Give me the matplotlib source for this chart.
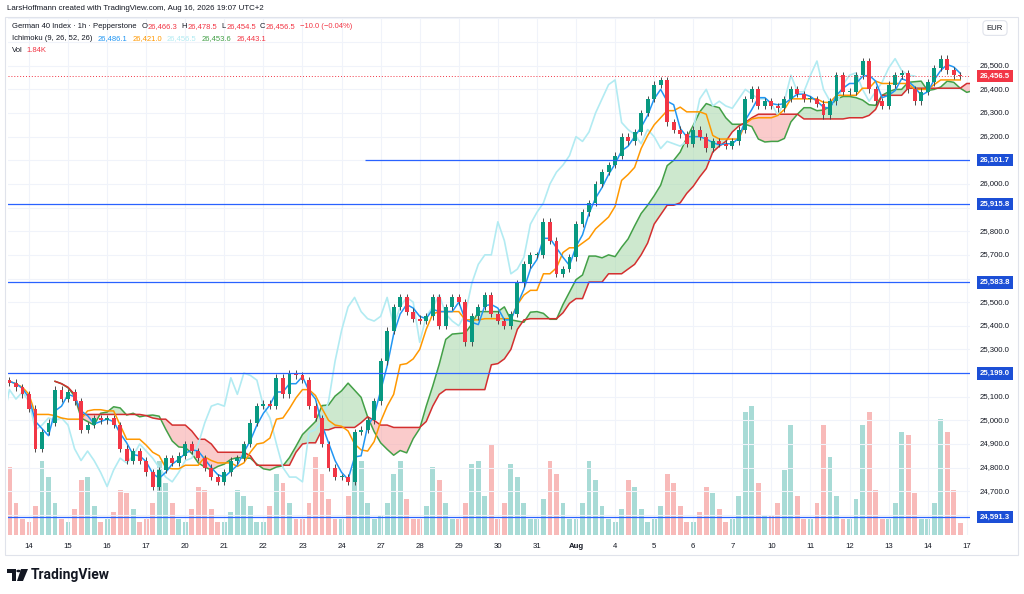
import numpy as np
import pandas as pd
import matplotlib
matplotlib.use("Agg")
import matplotlib.pyplot as plt
import matplotlib.transforms as mtransforms
from matplotlib.patches import Rectangle, Polygon, Circle

# data, 6 bars per trading day (first 3 bars = end of Jul 13)
day_labels = ["14", "15", "16", "17", "20", "21", "22", "23", "24", "27", "28", "29",
              "30", "31", "Aug", "4", "5", "6", "7", "10", "11", "12", "13", "14", "17"]
bars_per_day = 6
first_open = 25170

closes = [
    25160, 25140, 25110,                              # Jul 13
    25050, 24880, 24950, 24990, 25130, 25090,         # Jul 14
    25120, 25080, 24960, 24980, 25010, 25000,         # Jul 15
    25010, 24980, 24880, 24830, 24870, 24830,         # Jul 16
    24780, 24720, 24790, 24840, 24820, 24850,         # Jul 17
    24900, 24870, 24840, 24800, 24760, 24740,         # Jul 20
    24780, 24830, 24840, 24900, 24990, 25060,         # Jul 21
    25070, 25060, 25180, 25110, 25200, 25190,         # Jul 22
    25170, 25060, 25010, 24900, 24800, 24760,         # Jul 23
    24760, 24740, 24950, 24960, 25000, 25080,         # Jul 24
    25250, 25380, 25480, 25520, 25460, 25430,         # Jul 27
    25420, 25440, 25520, 25400, 25480, 25520,         # Jul 28
    25500, 25330, 25440, 25480, 25530, 25450,         # Jul 29
    25420, 25400, 25450, 25580, 25660, 25700,         # Jul 30
    25700, 25840, 25760, 25620, 25640, 25690,         # Jul 31
    25830, 25880, 25920, 26000, 26050, 26080,         # Aug 3
    26120, 26200, 26180, 26220, 26300, 26360,         # Aug 4
    26420, 26440, 26260, 26230, 26210, 26170,         # Aug 5
    26230, 26200, 26150, 26180, 26170, 26160,         # Aug 6
    26180, 26230, 26360, 26400, 26330, 26350,         # Aug 7
    26330, 26320, 26360, 26400, 26380, 26360,         # Aug 10
    26360, 26340, 26290, 26350, 26460, 26390,         # Aug 11
    26390, 26460, 26520, 26400, 26350, 26330,         # Aug 12
    26420, 26460, 26470, 26400, 26350, 26390,         # Aug 13
    26430, 26490, 26530, 26480, 26460, 26456.5,       # Aug 14
]

volumes = [  # K
    10.5, 5.0, 2.5,
    2.0, 4.5, 11.5, 9.0, 5.0, 2.5,
    2.0, 4.0, 8.5, 9.0, 4.5, 2.0,
    2.5, 3.5, 7.0, 6.5, 4.0, 2.0,
    2.5, 5.0, 11.5, 8.0, 5.0, 2.5,
    2.0, 4.0, 7.5, 7.0, 4.0, 2.0,
    2.0, 3.5, 7.0, 6.0, 4.5, 2.0,
    2.0, 4.5, 9.5, 8.0, 5.0, 2.5,
    2.5, 5.0, 12.0, 9.5, 5.5, 2.5,
    2.5, 6.0, 10.5, 11.5, 5.0, 2.5,
    3.0, 5.0, 9.5, 11.5, 5.5, 2.5,
    2.5, 4.5, 10.5, 8.5, 5.0, 2.5,
    2.5, 5.0, 11.0, 11.5, 6.0, 14.0,
    2.5, 5.0, 11.0, 9.0, 5.0, 2.5,
    2.5, 5.5, 11.5, 9.5, 5.0, 2.5,
    2.5, 5.0, 11.5, 8.5, 4.5, 2.5,
    2.0, 4.0, 8.5, 7.5, 4.0, 2.0,
    2.5, 4.5, 9.5, 8.0, 4.5, 2.0,
    2.0, 3.5, 7.5, 6.5, 4.0, 2.0,
    2.5, 6.0, 19.0, 20.0, 8.0, 3.0,
    3.0, 5.0, 10.0, 17.0, 6.0, 2.5,
    2.5, 5.0, 17.0, 12.0, 6.0, 2.5,
    2.5, 5.5, 17.0, 19.0, 7.0, 2.5,
    2.5, 5.0, 16.0, 15.5, 6.5, 2.5,
    2.5, 5.0, 18.0, 16.0, 7.0, 1.84,
]

levels = [26101.7, 25915.8, 25583.8, 25199.0, 24591.3]
level_start = [54.6, None, None, None, None]
last_price = 26456.5

UP, DOWN = "#089981", "#f23645"
LEVEL = "#2962ff"
dark = "#131722"
plt.rcParams["font.family"] = ["Liberation Sans", "DejaVu Sans"]

c = np.array(closes, dtype=float)
o = np.r_[first_open, c[:-1]]
wick = 14
h = np.maximum(o, c) + wick
l = np.minimum(o, c) - wick
x = np.arange(len(c))
up = c >= o

# ichimoku (9, 26, 52, 26) on 1h ~ (2, 7, 14, 7) on these bars
hs, ls = pd.Series(h), pd.Series(l)
def mid(n):
    return ((hs.rolling(n, min_periods=1).max() + ls.rolling(n, min_periods=1).min()) / 2).values
tenkan = mid(2)
kijun = mid(7)
span_b = mid(14)
span_a = (tenkan + kijun) / 2
shift = 7

W, H = 1024, 594
fig = plt.figure(figsize=(W / 100, H / 100), dpi=100)
fig.patch.set_facecolor("white")

def px(xp, yp):
    return xp / W, 1 - yp / H

L, R, T, B = 8, 970, 18, 535
rect = [L / W, 1 - B / H, (R - L) / W, (B - T) / H]

vax = fig.add_axes(rect)
ax = fig.add_axes(rect)
ax.patch.set_alpha(0)
xlim = (-0.22, 147.5)
ylim = (24515, 26702)

# volume
vcol = np.where(up, "#26a69a", "#ef5350")
vax.bar(x, volumes, width=0.75, color=vcol, alpha=0.4, linewidth=0)
vax.set_xlim(xlim)
vax.set_ylim(0, 80)
vax.axis("off")

# grid
for p in np.arange(24600, 26701, 100):
    ax.axhline(p, color="#f0f3fa", lw=0.8, zorder=0)
for d in range(len(day_labels)):
    ax.axvline(3 + bars_per_day * d, color="#f0f3fa", lw=0.8, zorder=0)

# cloud
xs = x + shift
ax.fill_between(xs, span_a, span_b, where=span_a >= span_b, interpolate=True,
                color="#a5d6a7", alpha=0.55, lw=0, zorder=1)
ax.fill_between(xs, span_a, span_b, where=span_a < span_b, interpolate=True,
                color="#f7a1a1", alpha=0.55, lw=0, zorder=1)
ax.plot(xs, span_a, color="#43a047", lw=1.1, zorder=2)
ax.plot(xs, span_b, color="#d32f2f", lw=1.1, zorder=2)
ax.plot(x - shift, c, color="#b2ebf2", lw=1.2, zorder=2)
ax.plot(x, kijun, color="#ff9800", lw=1.1, zorder=3)
ax.plot(x, tenkan, color="#2196f3", lw=1.1, zorder=3)

# candles
ax.vlines(x, l, h, color="#4a4a4a", lw=0.7, zorder=4)
bot = np.minimum(o, c)
hgt = np.maximum(np.abs(c - o), 3)
ax.bar(x, hgt, bottom=bot, width=0.6, color=np.where(up, UP, DOWN), lw=0, zorder=5)

# levels
for lv, st in zip(levels, level_start):
    if st is None:
        ax.axhline(lv, color=LEVEL, lw=0.9, zorder=6)
    else:
        ax.hlines(lv, st, xlim[1], color=LEVEL, lw=0.9, zorder=6)
ax.axhline(last_price, color="#f23645", lw=0.7, ls=(0, (1, 2)), zorder=6)

ax.set_xlim(xlim)
ax.set_ylim(ylim)
ax.set_xticks([])
ax.set_yticks([])
for s in ax.spines.values():
    s.set_visible(False)

# right price scale (ticks hidden under the level boxes are skipped)
tr = mtransforms.blended_transform_factory(ax.transAxes, ax.transData)
xlab = (995 - L) / (R - L)
boxed = levels + [last_price]
for p in np.arange(24700, 26501, 100):
    if min(abs(p - b) for b in boxed) < 40:
        continue
    ax.text(xlab, p, f"{p:,.1f}", transform=tr, ha="center", va="center",
            fontsize=5.6, color=dark, clip_on=False, zorder=7)
for lv in levels:
    ax.text(xlab, lv, f"{lv:,.1f}", transform=tr, ha="center", va="center",
            fontsize=5.6, color="white", fontweight="bold", clip_on=False, zorder=9,
            bbox=dict(boxstyle="square,pad=0.35", fc="#1c4fd6", ec="none"))
ax.text(xlab, last_price, f"{last_price:,.1f}", transform=tr, ha="center", va="center",
        fontsize=5.6, color="white", fontweight="bold", clip_on=False, zorder=9,
        bbox=dict(boxstyle="square,pad=0.35", fc="#f23645", ec="none"))

# time scale
trx = mtransforms.blended_transform_factory(ax.transData, ax.transAxes)
for d, lab in enumerate(day_labels):
    ax.text(3 + bars_per_day * d, -(546 - B) / (B - T), lab, transform=trx,
            ha="center", va="center", fontsize=5.6, color=dark,
            fontweight="bold" if lab == "Aug" else "normal", clip_on=False)

# frame and texts
fig.patches.append(Rectangle(px(5, 555), 1013 / W, 538 / H, transform=fig.transFigure,
                             fill=False, ec="#e0e3eb", lw=0.8))
fig.text(*px(7, 9), "LarsHoffmann created with TradingView.com, Aug 16, 2026 19:07 UTC+2",
         fontsize=5.7, color=dark, va="center")

renderer = fig.canvas.get_renderer()

def chain(y, segs):
    xcur = 12
    for txt, col, gap in segs:
        xcur += gap
        t = fig.text(*px(xcur, y), txt, fontsize=5.5, color=col, va="center")
        xcur += t.get_window_extent(renderer=renderer).width

chain(27, [("German 40 Index · 1h · Pepperstone", dark, 0), ("O", dark, 5), ("26,466.3", DOWN, 0.5),
           ("H", dark, 4), ("26,478.5", DOWN, 0.5), ("L", dark, 4), ("26,454.5", DOWN, 0.5),
           ("C", dark, 4), ("26,456.5", DOWN, 0.5), ("−10.0 (−0.04%)", DOWN, 4)])
chain(39, [("Ichimoku (9, 26, 52, 26)", dark, 0), ("26,486.1", "#2196f3", 5), ("26,421.0", "#ff9800", 5),
           ("26,456.5", "#b2ebf2", 5), ("26,453.6", "#43a047", 5), ("26,443.1", "#f23645", 5)])
chain(51, [("Vol", dark, 0), ("1.84K", DOWN, 4)])

fig.text(*px(995, 28), "EUR", fontsize=5.6, color=dark, ha="center", va="center",
         bbox=dict(boxstyle="round,pad=0.5", fc="white", ec="#e0e3eb", lw=0.8))

# TradingView logo
fig.patches.append(Polygon([px(7, 569), px(16, 569), px(16, 581), px(12, 581), px(12, 573), px(7, 573)],
                           closed=True, transform=fig.transFigure, fc=dark, ec="none"))
fig.patches.append(Circle(px(18.5, 571), 2.2 / W, transform=fig.transFigure, fc=dark, ec="none"))
fig.patches.append(Polygon([px(21, 569), px(28, 569), px(23, 581), px(17, 581)],
                           closed=True, transform=fig.transFigure, fc=dark, ec="none"))
fig.text(*px(31, 575), "TradingView", fontsize=10, fontweight="bold", color=dark, va="center",
         family=["Roboto", "DejaVu Sans"])

fig.savefig("out.png", dpi=100)
